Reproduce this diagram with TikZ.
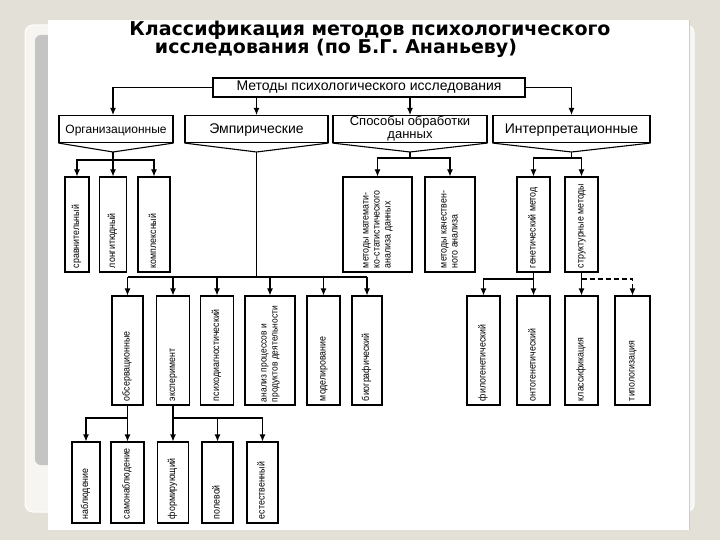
\documentclass[tikz,border=0pt]{standalone}
\usepackage{fontspec}
\setmainfont{Liberation Sans}
\newfontfamily\titlefont{DejaVu Sans}
\usetikzlibrary{arrows.meta}
\definecolor{slidebg}{RGB}{227,224,216}
\definecolor{framebg}{RGB}{246,245,241}
\definecolor{panelgray}{RGB}{196,196,196}
\newcommand{\vlabel}[2]{\rotatebox{90}{\makebox[#1][l]{\scalebox{0.88}[1]{\begin{tabular}{@{}l@{}}#2\end{tabular}}}}}

\begin{document}
\begin{tikzpicture}[x=1pt,y=-1pt,
    box/.style={draw,line width=1.1pt,inner sep=0pt,align=center,font=\fontsize{14}{14}\selectfont},
    onerow/.style={text height=12pt,text depth=2pt},
    vbox/.style={draw,line width=1.1pt,inner sep=0pt,font=\fontsize{10}{11}\selectfont},
    arr/.style={-{Latex[length=7pt,width=6pt]},line width=1.1pt},
    line/.style={line width=1.1pt}]
    % Slide
    \fill[slidebg] (0,0) rectangle (720,540);
    \useasboundingbox (0,0) rectangle (720,540);
    \fill[framebg,draw=white,line width=1pt,rounded corners=8pt] (25,25) rectangle (694,512);
    \fill[panelgray,rounded corners=6pt] (35,35) rectangle (680,465);
    \fill[white] (48,20) rectangle (689,530);
    \draw[gray!40] (689,20) -- (689,530);
    % Title
    \node[font=\titlefont\bfseries\fontsize{19}{20}\selectfont] (title1) at (370,30) {Классификация методов психологического};
    \node[font=\titlefont\bfseries\fontsize{19}{20}\selectfont] (title2) at (336,48) {исследования (по Б.Г. Ананьеву)};
    % Top box
    \node[box,minimum width=312pt,minimum height=19pt] (main) at (369,87.5) {Методы психологического исследования};
    % Second row
    \node[box,onerow,minimum width=114pt,minimum height=27pt,font=\fontsize{12}{12}\selectfont] (org) at (116,129) {Организационные};
    \node[box,onerow,minimum width=143pt,minimum height=27pt] (emp) at (256.5,129) {Эмпирические};
    \node[box,minimum width=154pt,minimum height=27pt,font=\fontsize{13}{13}\selectfont] (proc) at (410,129) {Способы обработки\\данных};
    \node[box,onerow,minimum width=157pt,minimum height=27pt] (interp) at (571.5,129) {Интерпретационные};
    \coordinate (orgtip) at (113,152);
    \coordinate (emptip) at (256.5,152);
    \coordinate (proctip) at (410,152);
    \coordinate (interptip) at (571.5,152);
    \foreach \n in {org,emp,proc,interp}
        \draw[line] (\n.south west) -- (\n tip) -- (\n.south east);
    \draw[arr] (main.west) -| (org.north -| orgtip);
    \draw[arr] (main.east) -| (interp.north -| interptip);
    \draw[arr] (main.south -| emptip) -- (emp.north -| emptip);
    \draw[arr] (main.south -| proctip) -- (proc.north -| proctip);
    % Organizational methods
    \node[vbox,minimum width=24pt,minimum height=95pt] (sravn) at (77,224.5) {\vlabel{87pt}{сравнительный}};
    \node[vbox,minimum width=27pt,minimum height=95pt] (long) at (113,224.5) {\vlabel{87pt}{лонгитюдный}};
    \node[vbox,minimum width=32pt,minimum height=95pt] (kompl) at (154,224.5) {\vlabel{87pt}{комплексный}};
    \coordinate (orgbus) at (113,160);
    \draw[arr] (orgtip) -- (long.north);
    \draw[arr] (orgbus) -| (sravn.north);
    \draw[arr] (orgbus) -| (kompl.north);
    % Empirical methods
    \node[vbox,minimum width=31pt,minimum height=109pt] (obs) at (127.5,350.5) {\vlabel{101pt}{обсервационные}};
    \node[vbox,minimum width=33pt,minimum height=109pt] (exp) at (173,350.5) {\vlabel{101pt}{эксперимент}};
    \node[vbox,minimum width=33pt,minimum height=109pt] (diag) at (217,350.5) {\vlabel{101pt}{психодиагностический}};
    \node[vbox,minimum width=50pt,minimum height=109pt,font=\fontsize{9.6}{11}\selectfont] (anal) at (270,350.5) {\vlabel{103pt}{анализ процессов и\\продуктов деятельности}};
    \node[vbox,minimum width=33pt,minimum height=109pt] (model) at (323.5,350.5) {\vlabel{101pt}{моделирование}};
    \node[vbox,minimum width=30pt,minimum height=109pt] (bio) at (367,350.5) {\vlabel{101pt}{биографический}};
    \coordinate (empbus) at (256.5,277);
    \draw[line] (emptip) -- (empbus);
    \draw[line] (obs.north |- empbus) -- (bio.north |- empbus);
    \foreach \n in {obs,exp,diag,anal,model,bio}
        \draw[arr] (\n.north |- empbus) -- (\n.north);
    % Observation and experiment
    \node[vbox,minimum width=28pt,minimum height=81pt] (nabl) at (86,482.5) {\vlabel{73pt}{наблюдение}};
    \node[vbox,minimum width=33pt,minimum height=81pt] (samo) at (127.5,482.5) {\vlabel{73pt}{самонаблюдение}};
    \node[vbox,minimum width=31pt,minimum height=81pt] (form) at (173,482.5) {\vlabel{73pt}{формирующий}};
    \node[vbox,minimum width=31pt,minimum height=81pt] (pol) at (217.5,482.5) {\vlabel{73pt}{полевой}};
    \node[vbox,minimum width=31pt,minimum height=81pt] (est) at (262.5,482.5) {\vlabel{73pt}{естественный}};
    \coordinate (obsbus) at (127.5,418);
    \coordinate (expbus) at (173,418);
    \draw[arr] (obs.south) -- (samo.north);
    \draw[arr] (obsbus) -| (nabl.north);
    \draw[arr] (exp.south) -- (form.north);
    \draw[arr] (expbus) -| (pol.north);
    \draw[arr] (expbus) -| (est.north);
    % Data processing
    \node[vbox,minimum width=69pt,minimum height=95pt] (mat) at (377.5,224.5) {\vlabel{87pt}{методы математи-\\ко-статистического\\анализа данных}};
    \node[vbox,minimum width=50pt,minimum height=95pt] (qual) at (450,224.5) {\vlabel{87pt}{методы качествен-\\ного анализа}};
    \coordinate (procbus) at (410,158);
    \draw[line] (proctip) -- (procbus);
    \draw[arr] (procbus) -| (mat.north);
    \draw[arr] (procbus) -| (qual.north);
    % Interpretation
    \node[vbox,minimum width=33pt,minimum height=95pt] (gen) at (533.5,224.5) {\vlabel{87pt}{генетический метод}};
    \node[vbox,minimum width=33pt,minimum height=95pt] (struct) at (581.5,224.5) {\vlabel{87pt}{структурные методы}};
    \coordinate (interpbus) at (571.5,158);
    \draw[line] (interptip) -- (interpbus);
    \draw[arr] (interpbus) -| (gen.north);
    \draw[arr] (interpbus) -| (struct.north);
    \node[vbox,minimum width=33pt,minimum height=109pt] (phylo) at (483.5,350.5) {\vlabel{101pt}{филогенетический}};
    \node[vbox,minimum width=33pt,minimum height=109pt] (onto) at (533.5,350.5) {\vlabel{101pt}{онтогенетический}};
    \node[vbox,minimum width=33pt,minimum height=109pt] (klass) at (581.5,350.5) {\vlabel{101pt}{классификация}};
    \node[vbox,minimum width=35pt,minimum height=109pt] (tipol) at (632.5,350.5) {\vlabel{101pt}{типологизация}};
    \coordinate (genbus) at (533.5,279);
    \coordinate (structbus) at (581.5,279);
    \draw[arr] (gen.south) -- (onto.north);
    \draw[arr] (genbus) -| (phylo.north);
    \draw[arr] (struct.south) -- (klass.north);
    \draw[arr,dash pattern=on 5pt off 3pt] (structbus) -| (tipol.north);
\end{tikzpicture}
\end{document}
